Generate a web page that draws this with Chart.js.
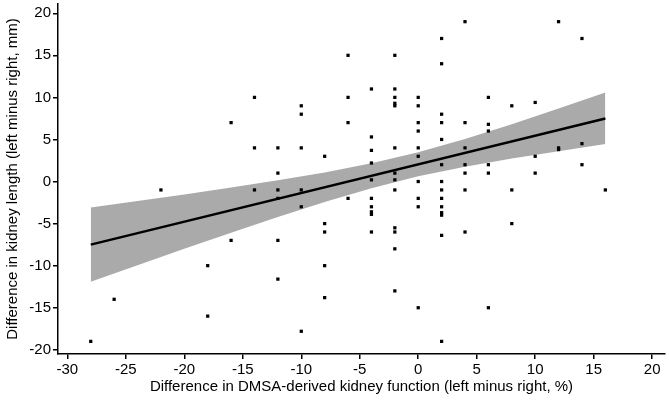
<!DOCTYPE html>
<html>
<head>
<meta charset="utf-8">
<script src="https://cdn.jsdelivr.net/npm/chart.js@4"></script>
<style>
  html, body { margin: 0; padding: 0; background: #fff; }
  #wrap { width: 669px; height: 402px; }
</style>
</head>
<body>
<div id="wrap"><canvas id="chart" width="669" height="402"></canvas></div>
<script>
// scatter points, grouped by x value
const diffFunction = [
  -28, -26, -22,
  -18, -18,
  -16, -16,
  -14, -14, -14,
  -12, -12, -12, -12, -12, -12,
  -10, -10, -10, -10, -10, -10,
  -8, -8, -8, -8, -8,
  -6, -6, -6, -6,
  -4, -4, -4, -4, -4, -4, -4, -4, -4, -4,
  -2, -2, -2, -2, -2, -2, -2, -2, -2, -2, -2, -2, -2,
  0, 0, 0, 0, 0, 0, 0, 0, 0, 0,
  2, 2, 2, 2, 2, 2, 2, 2, 2, 2, 2, 2, 2, 2,
  4, 4, 4, 4, 4, 4, 4,
  6, 6, 6, 6, 6, 6,
  8, 8, 8,
  10, 10, 10,
  12, 12, 12,
  14, 14, 14,
  16
];
const diffLength = [
  -19, -14, -1,
  -10, -16,
  7, -7,
  10, 4, -1,
  4, 1, -1, -2, -7, -11.6,
  9, 8, 4, -1, -3, -17.8,
  3, -5, -6, -10, -13.8,
  15, 10, 7, -2,
  11, 5.3, 3.7, 2.2, 0.2, -2, -3, -3.6, -3.9, -6,
  15, 11, 10, 9.3, 9, 4, 1, 0.2, -1, -5.5, -6, -8, -13,
  10, 9, 7, 6, 4, 3, 0, -2, -3, -15,
  17, 14, 8, 7, 5, 2, 0, -1, -2, -3, -3.7, -4, -6.4, -19,
  19, 7, 4, 2, 1, -1, -6,
  10, 6.8, 6, 2, 1, -15,
  9, -1, -5,
  9.4, 3, 1,
  19, 4, 3.8,
  17, 4.5, 2,
  -1
];

// fitted line and its confidence band
const fitX = [-28, 16];
const fitY = [-7.5, 7.5];
const bandX = [-28, -24, -20, -16, -12, -8, -4, 0, 4, 8, 12, 16];
const bandLow = [-11.9, -9.95, -8.0, -6.1, -4.23, -2.44, -0.79, 0.62, 1.76, 2.74, 3.61, 4.45];
const bandHigh = [-3.1, -2.31, -1.53, -0.72, 0.15, 1.08, 2.17, 3.48, 5.06, 6.82, 8.67, 10.57];

const xTickVals = [-30, -25, -20, -15, -10, -5, 0, 5, 10, 15, 20];
const yTickVals = [-20, -15, -10, -5, 0, 5, 10, 15, 20];

const toXY = (xs, ys) => xs.map((x, i) => ({ x: x, y: ys[i] }));

const font = { family: '"Liberation Sans", Arial, sans-serif', size: 15 };

const axisBase = {
  type: 'linear',
  border: { display: true, color: '#000', width: 1.5 },
  grid: { display: true, drawOnChartArea: false, drawTicks: true, tickLength: 5, color: '#000', lineWidth: 1.5 },
  ticks: { color: '#000', font: font, padding: 2, autoSkip: false, maxRotation: 0 },
};

new Chart(document.getElementById('chart'), {
  type: 'scatter',
  data: {
    datasets: [
      {
        type: 'line',
        data: toXY(bandX, bandLow),
        borderWidth: 0,
        pointRadius: 0,
        fill: false,
        order: 3,
      },
      {
        type: 'line',
        data: toXY(bandX, bandHigh),
        borderWidth: 0,
        pointRadius: 0,
        backgroundColor: '#aaaaaa',
        fill: '-1',
        order: 2,
      },
      {
        data: toXY(diffFunction, diffLength),
        pointStyle: 'rect',
        pointRadius: 2.3,
        pointBorderWidth: 0,
        pointBackgroundColor: '#000',
        order: 1,
      },
      {
        type: 'line',
        data: toXY(fitX, fitY),
        borderColor: '#000',
        borderWidth: 2.5,
        pointRadius: 0,
        fill: false,
        order: 0,
      },
    ],
  },
  options: {
    responsive: false,
    animation: false,
    events: [],
    layout: { padding: { top: 3, right: 1, left: 0, bottom: 0 } },
    plugins: { legend: { display: false }, tooltip: { enabled: false } },
    scales: {
      x: {
        ...axisBase,
        min: -30.8,
        max: 21.1,
        afterBuildTicks: (scale) => { scale.ticks = xTickVals.map(v => ({ value: v })); },
        afterFit: (scale) => { scale.height = 48; },
        title: {
          display: true,
          text: 'Difference in DMSA-derived kidney function (left minus right, %)',
          color: '#000',
          font: font,
          padding: { top: 0, bottom: 6 },
        },
      },
      y: {
        ...axisBase,
        min: -20.5,
        max: 21.1,
        afterBuildTicks: (scale) => { scale.ticks = yTickVals.map(v => ({ value: v })); },
        afterFit: (scale) => {
          scale.width = 58;
          scale.paddingTop = 0;
          scale.paddingBottom = 0;
        },
        title: {
          display: true,
          text: 'Difference in kidney length (left minus right, mm)',
          color: '#000',
          font: font,
          padding: { top: 4, bottom: 0 },
        },
      },
    },
  },
});
</script>
</body>
</html>
